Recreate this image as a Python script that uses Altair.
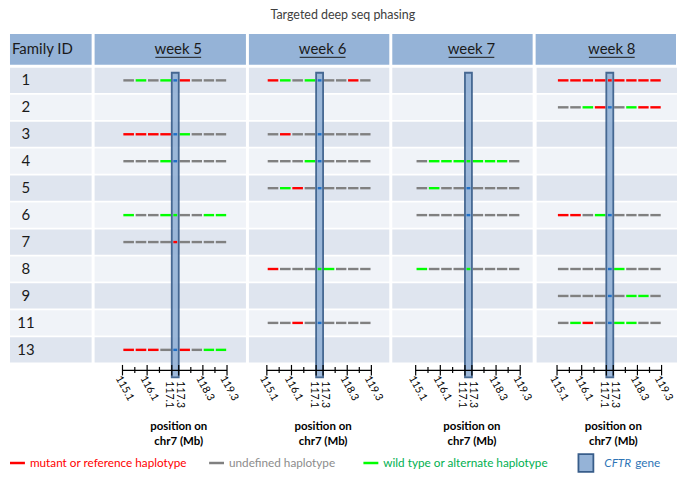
import altair as alt
import pandas as pd

# ---------------- data ----------------
title_text = "Targeted deep seq phasing"
id_header = "Family ID"
families = ["1", "2", "3", "4", "5", "6", "7", "8", "9", "11", "13"]
weeks = ["week 5", "week 6", "week 7", "week 8"]
# segment edges on chr7 (Mb): 4 segments left of CFTR, CFTR, 4 segments right
seg_edges = [115.1, 115.6, 116.1, 116.6, 117.1, 117.3, 117.8, 118.3, 118.8, 119.3]
cftr_span = [117.1, 117.3]
tick_major = [115.1, 116.1, 117.1, 117.3, 118.3, 119.3]
tick_minor = [115.6, 116.6, 117.8, 118.8]
axis_title = ["position on", "chr7 (Mb)"]

# haplotype call per segment: r = mutant/reference, x = undefined,
# g = wild type/alternate, b = CFTR segment without call
week5_calls = {"1": "xgxgbrxxx", "3": "rrrrbgxxx", "4": "xxxgbxxxx",
               "6": "gxxggxxgg", "7": "xxxxrxxxx", "13": "rrrxbrxgg"}
week6_calls = {"1": "rgxgbxxrx", "3": "xrxxbxxxx", "4": "xxxgbxxxx",
               "5": "xgrxbxxxx", "8": "rxxxggxxx", "11": "xxrxbxxxx"}
week7_calls = {"4": "xgggggggx", "5": "xgxxbxxxx", "6": "xxxxbxxxx",
               "8": "gxxxgxxxx"}
week8_calls = {"1": "rrrrrrrrr", "2": "xxgrbxgrr", "6": "rrxgbxxxx",
               "8": "xxxxbgxxx", "9": "xxxxbxggx", "11": "xgrxbggxx"}
all_calls = [week5_calls, week6_calls, week7_calls, week8_calls]

legend_codes = ["r", "x", "g"]
legend_labels = ["mutant or reference haplotype", "undefined haplotype",
                 "wild type or alternate haplotype"]
gene_words = ["CFTR", "gene"]

# ---------------- layout / style ----------------
FONT = "Lato"
FAM_W = 82
PANEL_W = [152, 141, 141, 141]
AXIS_L = [28, 18, 23.5, 20.5]
AXIS_LEN = 105
HDR_H = 31
BODY_H = 296
GAP = 3
LEG_H = 18
legend_x = [0, 200, 355]
HDR_FILL = "#95B3D7"
BOX_FILL = "#95B3D7"
BOX_STROKE = "#385D8A"
DARK_ROW = "#DFE5EF"
LIGHT_ROW = "#F0F3F8"
hap_scale = alt.Scale(domain=["r", "x", "g", "b"],
                      range=["#FF0000", "#808080", "#00FF00", "#1F6FC6"])

rows_df = pd.DataFrame({"family": families,
                        "band": [i % 2 for i in range(len(families))]})
yscale = alt.Scale(type="band", domain=families, paddingInner=0.065, paddingOuter=0)
Y = alt.Y("family:N", scale=yscale, axis=None)


def seg_frame(calls):
    rows = []
    for fam, codes in calls.items():
        for i, c in enumerate(codes):
            rows.append({"family": fam, "s": seg_edges[i], "e": seg_edges[i + 1],
                         "code": c, "cftr": 1 if i == 4 else 0})
    return pd.DataFrame(rows)


def row_bg(W):
    return alt.Chart(rows_df).transform_calculate(
        shade=f"datum.band == 0 ? '{DARK_ROW}' : '{LIGHT_ROW}'"
    ).mark_rect().encode(
        y=Y, x=alt.value(0), x2=alt.value(W),
        color=alt.Color("shade:N", scale=None))


def week_body(calls, W, L):
    xs = alt.Scale(domain=[seg_edges[0], cftr_span[0], cftr_span[1], seg_edges[-1]],
                   range=[L, L + 49.5, L + 56.5, L + AXIS_LEN], nice=False, zero=False)
    xa = alt.Axis(labels=False, ticks=False, domain=False, grid=False,
                  title=axis_title, titleFont=FONT, titleFontSize=11.5,
                  titleFontWeight="bold", titleColor="#000000",
                  titleX=L + 56, titleY=58, titleAlign="center",
                  titleBaseline="top", titleLineHeight=15.5)

    def X(f):
        return alt.X(f, scale=xs, axis=xa)

    segs = seg_frame(calls)
    dash_df = segs[segs.cftr == 0]
    cftr_df = segs[segs.cftr == 1]
    dashes = alt.Chart(dash_df).transform_calculate(
        s0="datum.s + 0.035", e0="datum.e - 0.035"
    ).mark_rule(strokeWidth=2.4, strokeCap="butt").encode(
        x=X("s0:Q"), x2="e0:Q", y=Y,
        color=alt.Color("code:N", scale=hap_scale, legend=None))
    box = alt.Chart(pd.DataFrame({"s": [cftr_span[0]], "e": [cftr_span[1]]})).mark_rect(
        fill=BOX_FILL, opacity=0.92, stroke=BOX_STROKE, strokeWidth=1.8
    ).encode(x=X("s:Q"), x2="e:Q", y=alt.value(5), y2=alt.value(BODY_H + 15))
    cftr_seg = alt.Chart(cftr_df).transform_calculate(
        s0="datum.s + 0.045", e0="datum.e - 0.045"
    ).mark_rule(strokeWidth=2.4, strokeCap="butt").encode(
        x=X("s0:Q"), x2="e0:Q", y=Y,
        color=alt.Color("code:N", scale=hap_scale, legend=None))
    axis_line = alt.Chart(pd.DataFrame({"s": [seg_edges[0]], "e": [seg_edges[-1]]})).mark_rule(
        color="black", strokeWidth=1.2
    ).encode(x=X("s:Q"), x2="e:Q", y=alt.value(BODY_H + 8))
    majors = alt.Chart(pd.DataFrame({"v": tick_major})).mark_rule(
        color="black", strokeWidth=1.2
    ).encode(x=X("v:Q"), y=alt.value(BODY_H + 2.5), y2=alt.value(BODY_H + 13))
    minors = alt.Chart(pd.DataFrame({"v": tick_minor})).mark_rule(
        color="black", strokeWidth=1.2
    ).encode(x=X("v:Q"), y=alt.value(BODY_H + 4.5), y2=alt.value(BODY_H + 10.5))
    tick_df = pd.DataFrame({"v": tick_major})
    lab_style = dict(font=FONT, fontSize=10.5, color="#000000", align="left", baseline="top")
    lab_slant = alt.Chart(tick_df).transform_filter(
        f"datum.v != {cftr_span[0]} && datum.v != {cftr_span[1]}"
    ).mark_text(angle=61, **lab_style).encode(
        x=X("v:Q"), y=alt.value(BODY_H + 12), text=alt.Text("v:Q", format=".1f"))
    lab_a = alt.Chart(tick_df).transform_filter(f"datum.v == {cftr_span[0]}").mark_text(
        angle=90, dy=-2.5, **lab_style
    ).encode(x=X("v:Q"), y=alt.value(BODY_H + 19), text=alt.Text("v:Q", format=".1f"))
    lab_b = alt.Chart(tick_df).transform_filter(f"datum.v == {cftr_span[1]}").mark_text(
        angle=90, dy=-6.5, **lab_style
    ).encode(x=X("v:Q"), y=alt.value(BODY_H + 19), text=alt.Text("v:Q", format=".1f"))
    return alt.layer(row_bg(W), dashes, box, cftr_seg, axis_line, majors, minors,
                     lab_slant, lab_a, lab_b).properties(width=W, height=BODY_H)


def header(label, W, tx, align, underline):
    df = pd.DataFrame({"label": [label]})
    base = alt.Chart(df)
    layers = [
        base.mark_rect(fill=HDR_FILL).encode(
            x=alt.value(0), x2=alt.value(W), y=alt.value(0), y2=alt.value(HDR_H)),
        base.mark_text(font=FONT, fontSize=15, color="#1A1A1A", align=align,
                       baseline="middle").encode(
            x=alt.value(tx), y=alt.value(HDR_H / 2), text="label:N"),
    ]
    if underline:
        layers.append(base.mark_rule(color="#1A1A1A", strokeWidth=1).encode(
            x=alt.value(tx - 23), x2=alt.value(tx + 23), y=alt.value(HDR_H / 2 + 8)))
    return alt.layer(*layers).properties(width=W, height=HDR_H)


fam_hdr = header(id_header, FAM_W, 2, "left", False)
week_hdrs = [header(w, PANEL_W[i], AXIS_L[i] + 56, "center", True)
             for i, w in enumerate(weeks)]

fam_body = alt.layer(
    row_bg(FAM_W),
    alt.Chart(rows_df).mark_text(font=FONT, fontSize=15, color="#1A1A1A",
                                 align="center", baseline="middle").encode(
        y=Y, x=alt.value(16), text="family:N"),
).properties(width=FAM_W, height=BODY_H)
week_bodies = [week_body(all_calls[i], PANEL_W[i], AXIS_L[i]) for i in range(4)]

# ---------------- legend ----------------
leg_df = pd.DataFrame({"label": legend_labels, "code": legend_codes, "lx": legend_x})
leg_base = alt.Chart(leg_df).transform_calculate(
    lx2="datum.lx + 15", tx="datum.lx + 20",
    tc="datum.code == 'r' ? '#FF0000' : datum.code == 'x' ? '#8C8C8C' : '#00B050'")
leg_lines = leg_base.mark_rule(strokeWidth=2.5).encode(
    x=alt.X("lx:Q", scale=None), x2="lx2:Q", y=alt.value(LEG_H / 2),
    color=alt.Color("code:N", scale=hap_scale, legend=None))
leg_text = leg_base.mark_text(font=FONT, fontSize=11.8, align="left", baseline="middle").encode(
    x=alt.X("tx:Q", scale=None), y=alt.value(LEG_H / 2), text="label:N",
    color=alt.Color("tc:N", scale=None))
gene_df = pd.DataFrame({"w": [gene_words[0]]})
leg_box = alt.Chart(gene_df).mark_rect(fill=BOX_FILL, stroke=BOX_STROKE, strokeWidth=1.8).encode(
    x=alt.value(571), x2=alt.value(586), y=alt.value(0), y2=alt.value(LEG_H))
leg_cftr = alt.Chart(pd.DataFrame({"w": [gene_words[0]]})).mark_text(
    font=FONT, fontSize=11.8, fontStyle="italic", color="#2E75B6", align="left",
    baseline="middle").encode(x=alt.value(597), y=alt.value(LEG_H / 2), text="w:N")
leg_gene = alt.Chart(pd.DataFrame({"w": [gene_words[1]]})).mark_text(
    font=FONT, fontSize=11.8, color="#2E75B6", align="left",
    baseline="middle").encode(x=alt.value(628), y=alt.value(LEG_H / 2), text="w:N")
legend = alt.layer(leg_lines, leg_text, leg_box, leg_cftr, leg_gene).properties(
    width=669, height=LEG_H)

headers = alt.hconcat(fam_hdr, *week_hdrs, spacing=GAP)
bodies = alt.hconcat(fam_body, *week_bodies, spacing=GAP)
table = alt.vconcat(headers, bodies, spacing=GAP)
chart = alt.vconcat(table, legend, spacing=6).properties(
    title=alt.TitleParams(text=title_text, font=FONT, fontSize=12.5, fontWeight="normal",
                          color="#404040", anchor="middle", offset=12),
    padding=0,
).configure_view(strokeWidth=0)

chart.save("out.html", embed_options={"renderer": "svg", "actions": False})
